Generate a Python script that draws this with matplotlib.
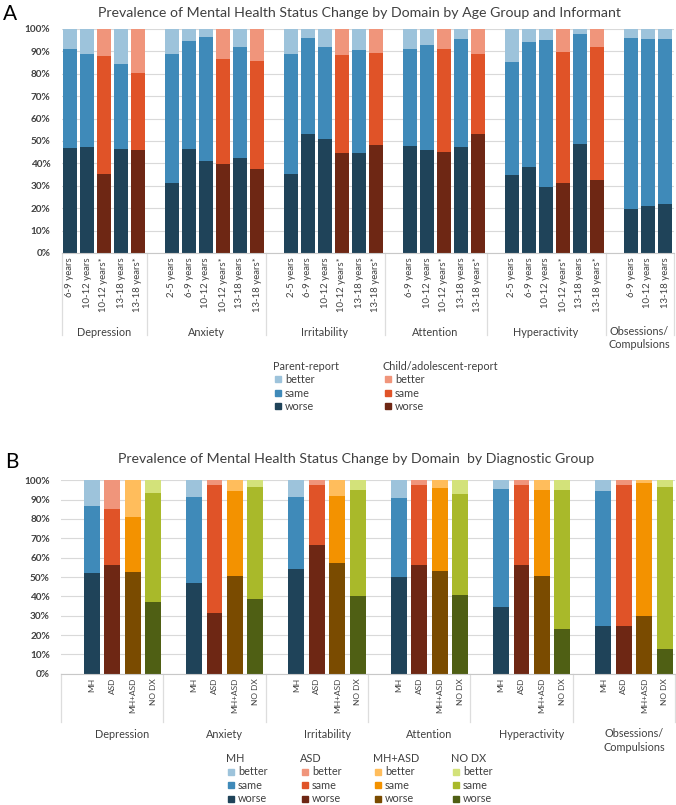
import matplotlib
matplotlib.use('Agg')
import matplotlib.pyplot as plt
from matplotlib.patches import Rectangle
from matplotlib.transforms import blended_transform_factory

plt.rcParams['font.family'] = ['Lato', 'DejaVu Sans']

domains = ['Depression', 'Anxiety', 'Irritability', 'Attention', 'Hyperactivity', 'Obsessions/\nCompulsions']

# ---- panel A: by age group and informant (* = child/adolescent report)
a_labels = [
    ['6-9 years', '10-12 years', '10-12 years*', '13-18 years', '13-18 years*'],
    ['2-5 years', '6-9 years', '10-12 years', '10-12 years*', '13-18 years', '13-18 years*'],
    ['2-5 years', '6-9 years', '10-12 years', '10-12 years*', '13-18 years', '13-18 years*'],
    ['6-9 years', '10-12 years', '10-12 years*', '13-18 years', '13-18 years*'],
    ['2-5 years', '6-9 years', '10-12 years', '10-12 years*', '13-18 years', '13-18 years*'],
    ['6-9 years', '10-12 years', '13-18 years'],
]
a_worse = [
    [46.8, 47.3, 35.4, 46.4, 46.2],
    [31.4, 46.4, 41.0, 39.7, 42.3, 37.4],
    [35.1, 53.3, 50.8, 44.6, 44.6, 48.1],
    [47.7, 45.9, 45.3, 47.3, 53.2],
    [34.9, 38.5, 29.6, 31.4, 48.6, 32.5],
    [19.5, 21.1, 22.0],
]
a_same = [
    [44.1, 41.6, 52.6, 38.0, 34.3],
    [57.5, 48.3, 55.3, 46.8, 49.5, 48.3],
    [53.8, 42.5, 41.0, 43.8, 45.9, 41.2],
    [43.2, 46.8, 45.6, 48.1, 35.7],
    [50.2, 55.9, 65.3, 58.2, 49.3, 59.3],
    [76.6, 74.6, 73.7],
]
a_better = [
    [9.1, 11.1, 12.0, 15.6, 19.5],
    [11.1, 5.3, 3.7, 13.5, 8.2, 14.3],
    [11.1, 4.2, 8.2, 11.6, 9.5, 10.7],
    [9.1, 7.3, 9.1, 4.6, 11.1],
    [14.9, 5.6, 5.1, 10.4, 2.1, 8.2],
    [3.9, 4.3, 4.3],
]

# ---- panel B: by diagnostic group
groups = ['MH', 'ASD', 'MH+ASD', 'NO DX']
b_worse = [
    [51.9, 56.0, 52.4, 37.1],
    [46.9, 31.5, 50.4, 38.6],
    [54.0, 66.4, 57.1, 40.2],
    [49.8, 56.0, 52.9, 40.9],
    [34.7, 56.0, 50.5, 22.9],
    [24.8, 24.8, 30.0, 12.6],
]
b_same = [
    [34.8, 29.2, 28.6, 56.2],
    [44.3, 65.9, 43.9, 57.8],
    [37.2, 31.0, 34.9, 54.6],
    [40.9, 41.4, 43.1, 51.9],
    [60.8, 41.4, 44.3, 71.9],
    [69.5, 72.6, 68.8, 83.8],
]
b_better = [
    [13.3, 14.8, 19.0, 6.7],
    [8.8, 2.6, 5.7, 3.6],
    [8.8, 2.6, 8.0, 5.2],
    [9.3, 2.6, 4.0, 7.2],
    [4.5, 2.6, 5.2, 5.2],
    [5.7, 2.6, 1.2, 3.6],
]

# colours: (better, same, worse)
parent_c = ('#9DC3DB', '#3F8AB9', '#1F4359')
child_c = ('#F0957B', '#E05328', '#6E2714')
b_colors = {
    'MH': parent_c,
    'ASD': child_c,
    'MH+ASD': ('#FFBD5C', '#F39200', '#7A4B00'),
    'NO DX': ('#D3E27A', '#A9B92A', '#4F5F14'),
}

txt = '#404040'
grid_c = '#D9D9D9'
line_c = '#C8C8C8'

fig = plt.figure(figsize=(6.76, 8.05), dpi=100)


def style_axis(ax, n):
    ax.set_xlim(-0.5, n - 0.5)
    ax.set_ylim(0, 100)
    ax.set_yticks(range(0, 101, 10))
    ax.set_yticklabels([f'{v}%' for v in range(0, 101, 10)], fontsize=7.2, fontweight='bold', color=txt)
    ax.tick_params(axis='y', length=0, pad=8)
    ax.tick_params(axis='x', length=0, pad=3, labelsize=6.9, labelcolor=txt)
    ax.yaxis.grid(True, color=grid_c, lw=0.8)
    ax.set_axisbelow(True)
    for s in ['top', 'right', 'left']:
        ax.spines[s].set_visible(False)
    ax.spines['bottom'].set_color(line_c)


# ================= A =================
axA = fig.add_axes([61.5 / 676, 1 - 253 / 805, 612 / 676, 224 / 805])
xpos, ticklab, seg_w, seg_s, seg_b, cols = [], [], [], [], [], []
starts, centers = [], []
pos = 0
for d in range(len(domains)):
    st = pos
    if d > 0:
        pos += 1  # blank slot before each group
    for j, lab in enumerate(a_labels[d]):
        xpos.append(pos)
        ticklab.append(lab)
        seg_w.append(a_worse[d][j])
        seg_s.append(a_same[d][j])
        seg_b.append(a_better[d][j])
        cols.append(child_c if lab.endswith('*') else parent_c)
        pos += 1
    starts.append(st - 0.5)
    centers.append((st + pos - 1) / 2)
starts.append(pos - 0.5)
nA = pos

bot = [0] * len(xpos)
for k, vals in [(2, seg_w), (1, seg_s), (0, seg_b)]:
    axA.bar(xpos, vals, bottom=bot, width=0.8, color=[c[k] for c in cols], linewidth=0)
    bot = [b + v for b, v in zip(bot, vals)]

style_axis(axA, nA)
axA.set_xticks(xpos)
axA.set_xticklabels(ticklab, rotation=90, va='top', ha='center')

trA = blended_transform_factory(axA.transData, axA.transAxes)
for x in starts:
    axA.plot([x, x], [0, -0.366], transform=trA, color='#DDDDDD', lw=0.9, clip_on=False)
for c, name in zip(centers, domains):
    yy = -0.379 if '\n' in name else -0.353
    axA.text(c, yy, name, transform=trA, ha='center', va='center', fontsize=7.8,
             color=txt, linespacing=1.3)

fig.text(359 / 676, 1 - 13 / 805, 'Prevalence of Mental Health Status Change by Domain by Age Group and Informant',
         ha='center', va='center', fontsize=10.2, color=txt)
fig.text(3 / 676, 1 - 14 / 805, 'A', ha='left', va='center', fontsize=15, color='black')

# legend A
def legend_block(x0, y0, title, colors):
    fig.text(x0 / 676, 1 - y0 / 805, title, ha='left', va='center', fontsize=7.8, color=txt)
    for i, (lab, c) in enumerate(zip(['better', 'same', 'worse'], colors)):
        yy = y0 + 13.5 * (i + 1)
        fig.patches.append(Rectangle(((x0 + 2) / 676, 1 - (yy + 3) / 805), 6 / 676, 6 / 805,
                                     transform=fig.transFigure, color=c, figure=fig))
        fig.text((x0 + 12) / 676, 1 - yy / 805, lab, ha='left', va='center', fontsize=7.8, color=txt)

legend_block(273, 366, 'Parent-report', parent_c)
legend_block(383, 366, 'Child/adolescent-report', child_c)

# ================= B =================
axB = fig.add_axes([61 / 676, 1 - 673.7 / 805, 614 / 676, 193.4 / 805])
xb, labb, bw, bs, bb, colb = [], [], [], [], [], []
bstarts, bcenters = [], []
pos = 0
for d in range(len(domains)):
    bstarts.append(pos - 0.5)
    pos += 1  # blank slot
    first = pos
    for j, g in enumerate(groups):
        xb.append(pos)
        labb.append(g)
        bw.append(b_worse[d][j])
        bs.append(b_same[d][j])
        bb.append(b_better[d][j])
        colb.append(b_colors[g])
        pos += 1
    bcenters.append((first + pos - 1) / 2)
bstarts.append(pos - 0.5)
nB = pos

bot = [0] * len(xb)
for k, vals in [(2, bw), (1, bs), (0, bb)]:
    axB.bar(xb, vals, bottom=bot, width=0.78, color=[c[k] for c in colb], linewidth=0)
    bot = [b + v for b, v in zip(bot, vals)]

style_axis(axB, nB)
axB.set_xticks(xb)
axB.set_xticklabels(labb, rotation=90, va='top', ha='center', fontsize=6)

trB = blended_transform_factory(axB.transData, axB.transAxes)
for x in bstarts:
    axB.plot([x, x], [0, -0.25], transform=trB, color='#DDDDDD', lw=0.9, clip_on=False)
for c, name in zip(bcenters, domains):
    yy = -0.345 if '\n' in name else -0.312
    axB.text(c, yy, name, transform=trB, ha='center', va='center', fontsize=7.8,
             color=txt, linespacing=1.3)

fig.text(356 / 676, 1 - 459 / 805, 'Prevalence of Mental Health Status Change by Domain  by Diagnostic Group',
         ha='center', va='center', fontsize=10.2, color=txt)
fig.text(5 / 676, 1 - 462 / 805, 'B', ha='left', va='center', fontsize=15, color='black')

for x0, g in zip([226, 300, 373, 451], groups):
    legend_block(x0, 758, g, b_colors[g])

fig.savefig('out.png', dpi=100)
